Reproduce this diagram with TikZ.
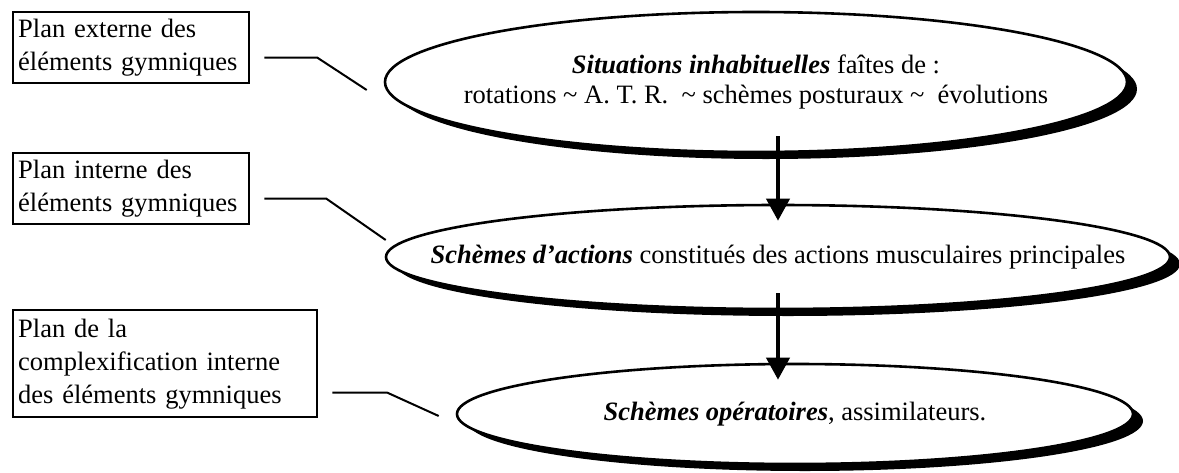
\documentclass[tikz,border=0pt]{standalone}
\usepackage{fontspec}
\setmainfont{Liberation Serif}
\usetikzlibrary{positioning, calc, shadows, arrows.meta, shapes.geometric}
% texte sans largeur, pour que l'ellipse garde sa taille
\newcommand\nowidth[1]{\makebox[0pt]{\begin{tabular}{@{}c@{}}#1\end{tabular}}}

\begin{document}
\frenchspacing
\begin{tikzpicture}[x=1pt, y=-1pt,
    font=\fontsize{26.5}{33}\selectfont,
    plan/.style={draw, line width=2.4pt, anchor=north west, align=left,
      inner xsep=4pt, inner ysep=2pt},
    stage/.style={ellipse, draw, line width=2.6pt, fill=white, inner sep=0pt,
      drop shadow={shadow xshift=10pt, shadow yshift=-7pt, fill=black, opacity=1}},
    link/.style={line width=2pt},
    flow/.style={-{Triangle[length=22pt, width=23pt]}, line width=4pt,
      shorten <=-17pt, shorten >=-17pt}]
    \useasboundingbox (0,0) rectangle (1179,472);
    \node[plan, minimum width=236pt, minimum height=71pt, text width=226pt] (plan1) at (12,11)
      {Plan externe des\\éléments gymniques};
    \node[plan, minimum width=236pt, minimum height=71pt, text width=226pt] (plan2) at (12,152)
      {Plan interne des\\éléments gymniques};
    \node[plan, minimum width=304pt, minimum height=107pt, text width=294pt] (plan3) at (12,309)
      {Plan de la\\complexification interne\\des éléments gymniques};
    \node[stage, minimum width=742pt, minimum height=140pt] (sit) at (756,82)
      {\fontsize{26.5}{30}\selectfont
       \nowidth{\textbf{\textit{Situations inhabituelles}} faîtes de :\\
       rotations \textasciitilde{} A. T. R.\ \ \textasciitilde{} schèmes posturaux \textasciitilde{}\ \ évolutions}};
    \node[stage, minimum width=784pt, minimum height=104pt] (act) at (778,257)
      {\nowidth{\textbf{\textit{Schèmes d’actions}} constitués des actions musculaires principales}};
    \node[stage, minimum width=676pt, minimum height=100pt] (ope) at (795,414)
      {\nowidth{\textbf{\textit{Schèmes opératoires}}, assimilateurs.}};
    % lignes de rappel
    \coordinate (l1a) at ($(plan1.east)+(14,10)$);
    \coordinate (l1b) at ($(sit.west)+(-17,8)$);
    \coordinate (l2a) at ($(plan2.east)+(14,10)$);
    \coordinate (l2b) at ($(act.west)+(1,-17)$);
    \coordinate (l3a) at ($(plan3.east)+(14,29)$);
    \coordinate (l3b) at ($(ope.west)+(-17,2)$);
    \draw[link] (l1a) -- ++(53,0) -- (l1b);
    \draw[link] (l2a) -- ++(62,0) -- (l2b);
    \draw[link] (l3a) -- ++(55,0) -- (l3b);
    % fleches
    \draw[flow] (act.north |- sit.south) -- (act.north);
    \draw[flow] (act.south) -- (act.south |- ope.north);
\end{tikzpicture}
\end{document}
